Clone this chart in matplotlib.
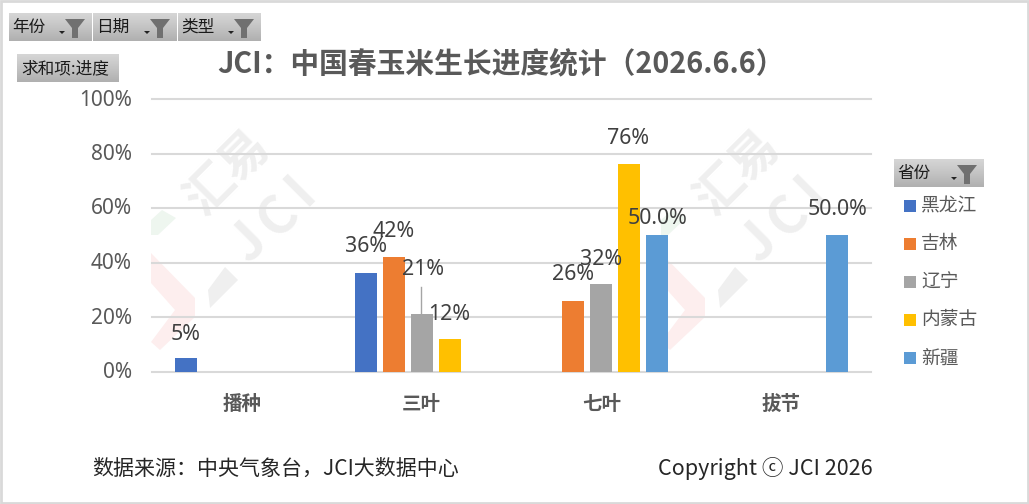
import numpy as np
import matplotlib
matplotlib.use('Agg')
import matplotlib.pyplot as plt
from matplotlib.patches import Polygon, Rectangle
from matplotlib.transforms import ScaledTranslation

plt.rcParams['font.family'] = ['Noto Sans CJK SC', 'DejaVu Sans']

W, H = 1029, 504

categories = ['播种', '三叶', '七叶', '拔节']
provinces = ['黑龙江', '吉林', '辽宁', '内蒙古', '新疆']
heilongjiang = [5, 36, None, None]
jilin = [None, 42, 26, None]
liaoning = [None, 21, 32, None]
neimenggu = [None, 12, 76, None]
xinjiang = [None, None, 50, 50]
series = [heilongjiang, jilin, liaoning, neimenggu, xinjiang]
colors = ['#4472C4', '#ED7D31', '#A5A5A5', '#FFC000', '#5B9BD5']
yticks = [0, 20, 40, 60, 80, 100]

fig = plt.figure(figsize=(W/100, H/100), dpi=100, facecolor='white')

# pixel overlay for the watermark, buttons, texts
bg = fig.add_axes([0, 0, 1, 1], zorder=0)
bg.set_xlim(0, W)
bg.set_ylim(H, 0)
bg.axis('off')

top = fig.add_axes([0, 0, 1, 1], zorder=3)
top.set_xlim(0, W)
top.set_ylim(H, 0)
top.axis('off')
top.patch.set_alpha(0)

ax = fig.add_axes([152/W, 1-371.5/H, 719/W, 272.5/H], zorder=2)
ax.patch.set_alpha(0)

# watermarks
for dx in (0, 510):
    bg.add_patch(Polygon([[151+dx, 220], [162+dx, 210], [176+dx, 218], [158+dx, 235], [151+dx, 235]],
                         fc='#eef6ef', ec='none'))
    bg.add_patch(Polygon([[151+dx, 253], [195+dx, 298], [195+dx, 317], [160+dx, 350], [151+dx, 342],
                          [175+dx, 310], [151+dx, 283]], fc='#fdeeee', ec='none'))
    bg.add_patch(Polygon([[208+dx, 290], [225+dx, 267], [238+dx, 280], [210+dx, 308]],
                         fc='#efefef', ec='none'))
    bg.text(228+dx, 172, '汇易', fontsize=35, color='#efefef', rotation=45,
            ha='center', va='center', fontweight='bold')
    for letter, lx, ly in (('J', 248, 242), ('C', 278, 217), ('I', 300, 190)):
        bg.text(lx+dx, ly, letter, fontsize=38, color='#efefef', rotation=45,
                ha='center', va='center', fontweight='bold')

x = np.arange(len(categories))
step = 28/180
width = 22/180
for i, (vals, c) in enumerate(zip(series, colors)):
    pos = [x[j]+(i-2)*step for j, v in enumerate(vals) if v is not None]
    hs = [v for v in vals if v is not None]
    ax.bar(pos, hs, width, color=c, label=provinces[i], zorder=3)

ax.set_xlim(-.5, 3.5)
ax.set_ylim(0, 100)
ax.set_yticks(yticks)
ax.set_yticklabels(['{}%'.format(t) for t in yticks], fontsize=15, color='#595959', family='Noto Sans')
ax.set_xticks(x)
ax.set_xticklabels(categories, fontsize=14, color='#595959', fontweight='bold')
ax.tick_params(axis='both', length=0)
ax.tick_params(axis='y', pad=14.5)
ax.tick_params(axis='x', pad=17)
ax.grid(axis='y', color='#d9d9d9', lw=1.5, zorder=0)
ax.set_axisbelow(True)
for line in ax.get_ygridlines():
    line.set_clip_on(False)
# tick labels sit a little above their gridlines
for lab in ax.get_yticklabels():
    lab.set_transform(lab.get_transform()+ScaledTranslation(0, 1.5/100, fig.dpi_scale_trans))
for s in ax.spines.values():
    s.set_visible(False)

# hand-moved data labels, offsets in points from the top of the bar
label_offs = {
    (0, 0): (0, 9), (0, 1): (0, 12), (1, 1): (0, 11), (2, 1): (1, 25),
    (3, 1): (-.5, 10), (1, 2): (-.5, 11), (2, 2): (0, 10.4), (3, 2): (-1, 11), (4, 2): (0, 4.8),
    (4, 3): (0, 11),
}
for (i, j), off in label_offs.items():
    v = series[i][j]
    txt = '{:.1f}%'.format(v) if i == 4 else '{}%'.format(v)
    ax.annotate(txt, (x[j]+(i-2)*step, v), xytext=off, textcoords='offset points',
                ha='center', va='bottom', fontsize=15.4, color='#404040', family='Noto Sans', zorder=6)
# leader line for the 21% label
top.plot([421, 421], [287, 314], color='#a5a5a5', lw=1)

top.text(497, 63, 'JCI：中国春玉米生长进度统计（2026.6.6）', fontsize=20.7, color='#595959',
         ha='center', va='center', fontweight='bold',
         transform=top.transData+ScaledTranslation(4/100, 0, fig.dpi_scale_trans))

grad = np.linspace(0, 1, 32).reshape(-1, 1)
cmap = matplotlib.colors.LinearSegmentedColormap.from_list('btn', ['#d6d6d6', '#c4c4c4', '#b0b0b0'])

def button(x0, y0, x1, y1, label, funnel=True):
    top.imshow(grad, extent=[x0, x1, y1, y0], cmap=cmap, aspect='auto', zorder=1)
    top.text(x0+3.5 if funnel else x0+4, (y0+y1)/2+.5, label, fontsize=12, color='#1a1a1a',
             ha='left', va='center', zorder=2)
    if funnel:
        fx = x1-17
        top.add_patch(Polygon([[fx-10, y0+6], [fx+10, y0+6], [fx+3, y0+15], [fx+3, y0+25],
                               [fx-3, y0+25], [fx-3, y0+15]], fc='#707070', ec='none', zorder=2))
        top.add_patch(Polygon([[x1-33, y0+18], [x1-27, y0+18], [x1-30, y0+21]],
                              fc='#222222', ec='none', zorder=2))

button(9, 13, 92, 41, '年份')
button(93, 13, 177, 41, '日期')
button(178, 13, 261, 41, '类型')
button(17, 54, 119, 82, '求和项:进度', funnel=False)
button(894, 159, 984, 187, '省份')
top.set_xlim(0, W)
top.set_ylim(H, 0)

# legend drawn by hand to keep the spacing of the original
for i, (name, c) in enumerate(zip(provinces, colors)):
    yy = 206+i*38
    top.add_patch(Rectangle((904, yy-6), 12, 12, fc=c, ec='none'))
    top.text(921, yy, name, fontsize=13.5, color='#595959', ha='left', va='center')

top.text(92, 469, '数据来源：中央气象台，JCI大数据中心', fontsize=15.1, color='#262626', ha='left', va='center')
top.text(873, 468, 'Copyright ⓒ JCI 2026', fontsize=15.5, color='#262626', ha='right', va='center')

# outer frame
top.add_patch(Rectangle((1, 1), W-2, H-2, fc='none', ec='#d9d9d9', lw=2))

plt.savefig('out.png', dpi=100)
